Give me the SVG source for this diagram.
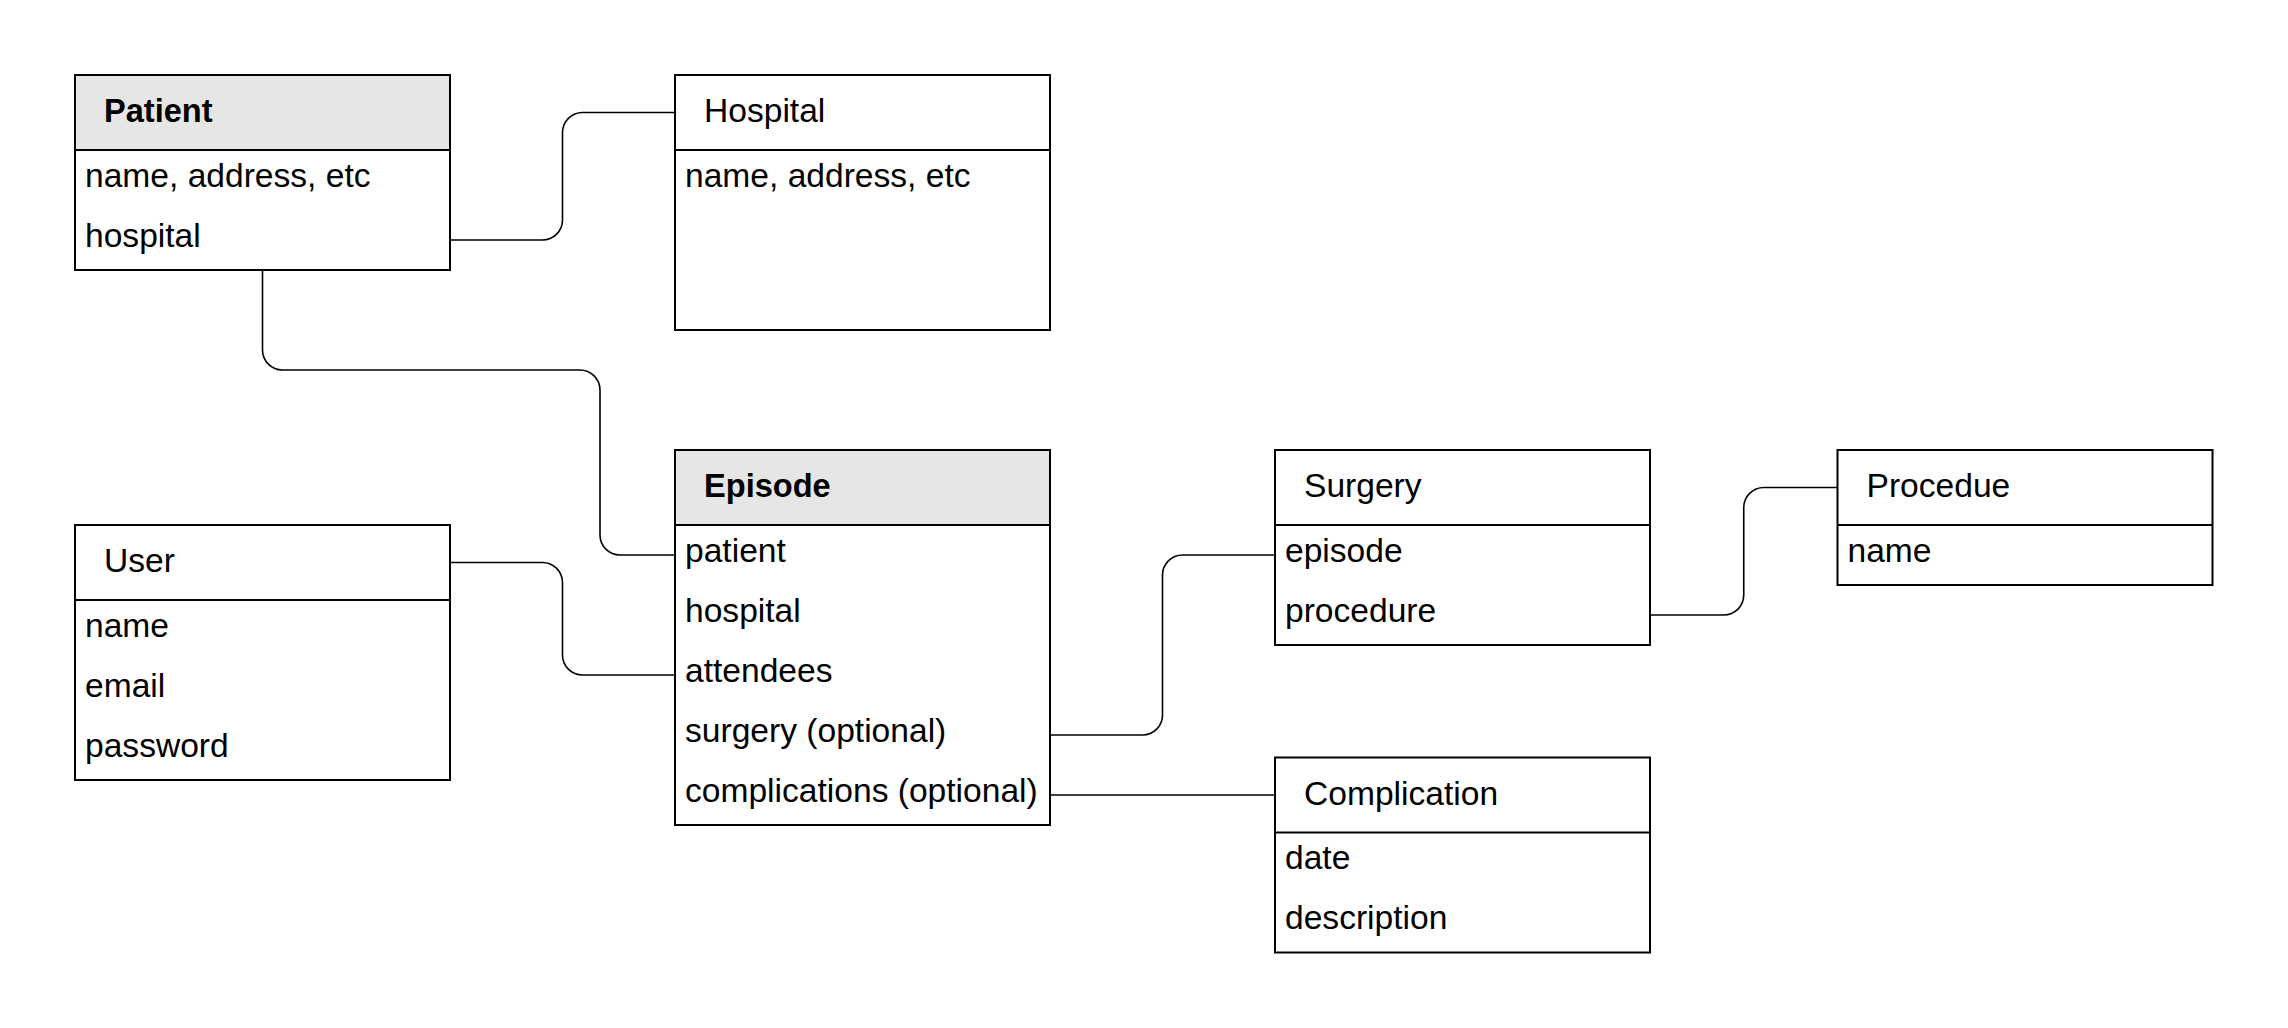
<svg xmlns="http://www.w3.org/2000/svg" width="2288" height="1028" viewBox="0 0 2288 1028">
<style>
.box{fill:#ffffff;stroke:#000000;stroke-width:2}
.hdr{fill:#e6e6e6;stroke:#000000;stroke-width:2}
.sep{stroke:#000000;stroke-width:2}
.t{font-family:"Liberation Sans",Arial,sans-serif;font-size:33.6px;fill:#000000}
.b{font-weight:bold;font-size:32.6px}
.c{fill:none;stroke:#000000;stroke-width:1.6}
</style>
<rect x="0" y="0" width="2288" height="1028" fill="#ffffff"/>
<g id="connectors">
<path class="c" d="M450,240 H542.5 A20,20 0 0 0 562.5,220 V132.5 A20,20 0 0 1 582.5,112.5 H675"/>
<path class="c" d="M262.5,270 V350 A20,20 0 0 0 282.5,370 H580 A20,20 0 0 1 600,390 V535 A20,20 0 0 0 620,555 H675"/>
<path class="c" d="M450,562.5 H542.5 A20,20 0 0 1 562.5,582.5 V655 A20,20 0 0 0 582.5,675 H675"/>
<path class="c" d="M1050,735 H1142.5 A20,20 0 0 0 1162.5,715 V575 A20,20 0 0 1 1182.5,555 H1275"/>
<path class="c" d="M1050,795 H1275"/>
<path class="c" d="M1650,615 H1723.75 A20,20 0 0 0 1743.75,595 V507.5 A20,20 0 0 1 1763.75,487.5 H1837.5"/>
</g>
<g id="patient">
<rect class="box" x="75" y="75" width="375" height="195"/>
<rect class="hdr" x="75" y="75" width="375" height="75"/>
<text class="t b" x="104" y="122">Patient</text>
<text class="t" x="85" y="186.5">name, address, etc</text>
<text class="t" x="85" y="246.5">hospital</text>
</g>
<g id="hospital">
<rect class="box" x="675" y="75" width="375" height="255"/>
<line class="sep" x1="675" y1="150" x2="1050" y2="150"/>
<text class="t" x="704" y="122">Hospital</text>
<text class="t" x="685" y="186.5">name, address, etc</text>
</g>
<g id="user">
<rect class="box" x="75" y="525" width="375" height="255"/>
<line class="sep" x1="75" y1="600" x2="450" y2="600"/>
<text class="t" x="104" y="572">User</text>
<text class="t" x="85" y="636.5">name</text>
<text class="t" x="85" y="696.5">email</text>
<text class="t" x="85" y="756.5">password</text>
</g>
<g id="episode">
<rect class="box" x="675" y="450" width="375" height="375"/>
<rect class="hdr" x="675" y="450" width="375" height="75"/>
<text class="t b" x="704" y="497">Episode</text>
<text class="t" x="685" y="561.5">patient</text>
<text class="t" x="685" y="621.5">hospital</text>
<text class="t" x="685" y="681.5">attendees</text>
<text class="t" x="685" y="741.5">surgery (optional)</text>
<text class="t" x="685" y="801.5">complications (optional)</text>
</g>
<g id="surgery">
<rect class="box" x="1275" y="450" width="375" height="195"/>
<line class="sep" x1="1275" y1="525" x2="1650" y2="525"/>
<text class="t" x="1304" y="497">Surgery</text>
<text class="t" x="1285" y="561.5">episode</text>
<text class="t" x="1285" y="621.5">procedure</text>
</g>
<g id="procedue">
<rect class="box" x="1837.5" y="450" width="375" height="135"/>
<line class="sep" x1="1837.5" y1="525" x2="2212.5" y2="525"/>
<text class="t" x="1866.5" y="497">Procedue</text>
<text class="t" x="1847.5" y="561.5">name</text>
</g>
<g id="complication">
<rect class="box" x="1275" y="757.5" width="375" height="195"/>
<line class="sep" x1="1275" y1="832.5" x2="1650" y2="832.5"/>
<text class="t" x="1304" y="804.5">Complication</text>
<text class="t" x="1285" y="869">date</text>
<text class="t" x="1285" y="929">description</text>
</g>
</svg>
